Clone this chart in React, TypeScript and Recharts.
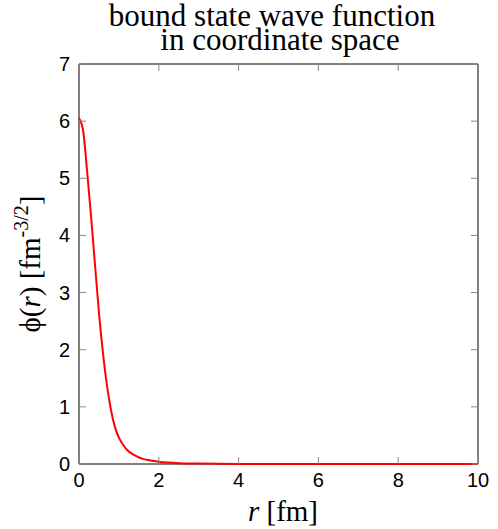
import { LineChart, Line, XAxis, YAxis, ReferenceArea } from 'recharts';

// values
const rValues = [0, 0.1, 0.2, 0.3, 0.4, 0.5, 0.6, 0.7, 0.8, 0.9, 1.0, 1.1, 1.2, 1.4, 1.6, 1.8, 2.0, 2.5, 3.0, 3.5, 4.0, 5, 6, 7, 8, 9, 10];
const phiValues = [6.05, 5.85, 5.15, 4.35, 3.5, 2.65, 1.95, 1.38, 0.95, 0.65, 0.46, 0.34, 0.25, 0.15, 0.09, 0.06, 0.04, 0.015, 0.007, 0.003, 0.001, 0, 0, 0, 0, 0, 0];
const xTicks = [0, 2, 4, 6, 8, 10];
const yTicks = [0, 1, 2, 3, 4, 5, 6, 7];
const titleLines = ['bound state wave function', 'in coordinate space'];

const data = rValues.map((r, i) => ({ r, phi: phiValues[i] }));

const W = 498;
const H = 529;
const LEFT = 79;
const TOP = 64;
const RIGHT = 478;
const BOTTOM = 464;
const TICK_LEN = 7;
const SANS = '"Liberation Sans", Arial, sans-serif';
const SERIF = '"Liberation Serif", "Times New Roman", serif';

function XTick(props: any) {
  const { x, payload } = props;
  return (
    <g>
      <line x1={x} x2={x} y1={BOTTOM} y2={BOTTOM - TICK_LEN} stroke="#888" />
      <line x1={x} x2={x} y1={TOP} y2={TOP + TICK_LEN} stroke="#888" />
      <text x={x} y={487} textAnchor="middle" fontFamily={SANS} fontSize={20} fill="#000">
        {payload.value}
      </text>
    </g>
  );
}

function YTick(props: any) {
  const { y, payload } = props;
  return (
    <g>
      <line x1={LEFT} x2={LEFT + TICK_LEN} y1={y} y2={y} stroke="#888" />
      <line x1={RIGHT - TICK_LEN} x2={RIGHT} y1={y} y2={y} stroke="#888" />
      <text x={70} y={y + 7} textAnchor="end" fontFamily={SANS} fontSize={20} fill="#000">
        {payload.value}
      </text>
    </g>
  );
}

function XLabel() {
  return (
    <g>
      <text x={283} y={521} textAnchor="middle" fontFamily={SERIF} fontSize={29} fill="#000">
        <tspan fontStyle="italic">r</tspan> [fm]
      </text>
      <text x={272} y={26} textAnchor="middle" fontFamily={SERIF} fontSize={31} fill="#000">
        {titleLines[0]}
      </text>
      <text x={280} y={50} textAnchor="middle" fontFamily={SERIF} fontSize={31} fill="#000">
        {titleLines[1]}
      </text>
    </g>
  );
}

function YLabel() {
  const cx = 40;
  const cy = 264;
  return (
    <text
      x={cx}
      y={cy}
      transform={`rotate(-90, ${cx}, ${cy})`}
      textAnchor="middle"
      fontFamily={SERIF}
      fontSize={29}
      fill="#000"
    >
      ϕ(<tspan fontStyle="italic">r</tspan>) [fm
      <tspan fontSize={20} dy={-12}>-3/2</tspan>
      <tspan dy={12}>]</tspan>
    </text>
  );
}

export default function App() {
  return (
    <div style={{ position: 'absolute', left: 0, top: 0, background: '#fff' }}>
      <LineChart
        width={W}
        height={H}
        data={data}
        margin={{ top: TOP, right: W - RIGHT, bottom: 0, left: 0 }}
      >
        <XAxis
          dataKey="r"
          type="number"
          domain={[0, 10]}
          ticks={xTicks}
          height={H - BOTTOM}
          axisLine={false}
          tickLine={false}
          tick={<XTick />}
          label={<XLabel />}
        />
        <YAxis
          type="number"
          domain={[0, 7]}
          ticks={yTicks}
          width={LEFT}
          axisLine={false}
          tickLine={false}
          tick={<YTick />}
          label={<YLabel />}
        />
        <Line
          type="monotone"
          dataKey="phi"
          stroke="#ff0000"
          strokeWidth={2}
          dot={false}
          isAnimationActive={false}
        />
        <ReferenceArea x1={0} x2={10} y1={0} y2={7} fill="none" stroke="#000" strokeWidth={1} />
      </LineChart>
    </div>
  );
}
